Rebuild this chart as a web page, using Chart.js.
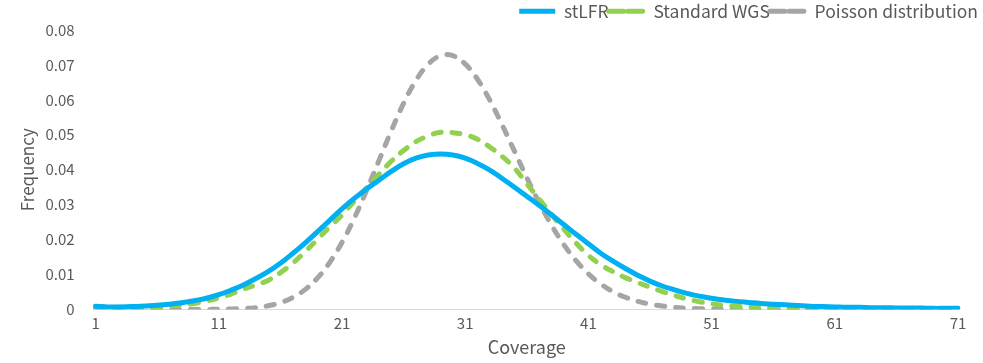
<!DOCTYPE html>
<html>
<head>
<meta charset="utf-8">
<script src="https://cdn.jsdelivr.net/npm/chart.js@4"></script>
<style>
  html, body { margin: 0; padding: 0; background: #fff; }
  #wrap { width: 983px; height: 363px; }
</style>
</head>
<body>
<div id="wrap"><canvas id="miGrafico"></canvas></div>
<script>
// coverage 1..71
const coverage = [];
for (let c = 1; c <= 71; c++) coverage.push(String(c));

const stLFR = [
  0.0009, 0.0007, 0.0007, 0.0008, 0.0010, 0.0012, 0.0015, 0.0019, 0.0025, 0.0032,
  0.0042, 0.0055, 0.0070, 0.0088, 0.0108, 0.0132, 0.0160, 0.0190, 0.0222, 0.0255,
  0.0288, 0.0318, 0.0345, 0.0370, 0.0395, 0.0417, 0.0433, 0.0442, 0.0445, 0.0442,
  0.0433, 0.0418, 0.0399, 0.0375, 0.0350, 0.0324, 0.0298, 0.0271, 0.0243, 0.0215,
  0.0188, 0.0161, 0.0138, 0.0117, 0.0098, 0.0081, 0.0067, 0.0056, 0.0046, 0.0038,
  0.0032, 0.0027, 0.0023, 0.0020, 0.0017, 0.0015, 0.0013, 0.0011, 0.0009, 0.0008,
  0.0007, 0.0006, 0.0006, 0.0005, 0.0005, 0.0004, 0.0004, 0.0004, 0.0003, 0.0003,
  0.0003
];

const standardWGS = [
  0.0008, 0.0007, 0.0006, 0.0006, 0.0006, 0.0007, 0.0009, 0.0012, 0.0017, 0.0024,
  0.0033, 0.0044, 0.0058, 0.0070, 0.0083, 0.0105, 0.0132, 0.0165, 0.0200, 0.0236,
  0.0270, 0.0310, 0.0348, 0.0387, 0.0424, 0.0455, 0.0480, 0.0497, 0.0507, 0.0506,
  0.0500, 0.0487, 0.0465, 0.0438, 0.0405, 0.0360, 0.0316, 0.0272, 0.0230, 0.0190,
  0.0155, 0.0128, 0.0108, 0.0091, 0.0077, 0.0064, 0.0051, 0.0040, 0.0030, 0.0022,
  0.0016, 0.0012, 0.0009, 0.0007, 0.0005, 0.0004, 0.0003, 0.0003, 0.0002, 0.0002,
  0.0002, 0.0002, 0.0001, 0.0001, 0.0001, 0.0001, 0.0001, 0.0001, 0.0001, 0.0001,
  0.0001
];

const poisson = [
  0, 0, 0, 0, 0, 0, 0, 0, 0, 0,
  0.00004, 0.00011, 0.00024, 0.00051, 0.00103, 0.00192, 0.00340, 0.00566, 0.00894, 0.01341,
  0.01916, 0.02612, 0.03407, 0.04259, 0.05111, 0.05898, 0.06553, 0.07021, 0.07263, 0.07263,
  0.07029, 0.06590, 0.05991, 0.05286, 0.04531, 0.03776, 0.03061, 0.02417, 0.01859, 0.01394,
  0.01020, 0.00729, 0.00508, 0.00347, 0.00231, 0.00151, 0.00096, 0.00060, 0.00037, 0.00022,
  0.00013, 0.00007, 0.00004, 0.00002, 0.00001, 0, 0, 0, 0, 0,
  0, 0, 0, 0, 0, 0, 0, 0, 0, 0,
  0
];

const yTicks = [0, 0.01, 0.02, 0.03, 0.04, 0.05, 0.06, 0.07, 0.08];

const FONT = "'Noto Sans CJK SC', 'Noto Sans', sans-serif";
const TXT = '#595959';

window.addEventListener("load", () => {
  const ctx = document.querySelector('#miGrafico').getContext('2d');

  new Chart(ctx, {
    type: 'line',
    data: {
      labels: coverage,
      datasets: [
        {
          label: 'stLFR',
          data: stLFR,
          borderColor: '#00B0F0',
          backgroundColor: '#00B0F0',
          borderWidth: 5,
          borderCapStyle: 'round',
          pointRadius: 0,
          tension: 0.4
        },
        {
          label: 'Standard WGS',
          data: standardWGS,
          borderColor: '#92D050',
          backgroundColor: '#92D050',
          borderWidth: 5,
          borderDash: [8, 11],
          borderCapStyle: 'round',
          pointRadius: 0,
          tension: 0.4
        },
        {
          label: 'Poisson distribution',
          data: poisson,
          borderColor: '#A5A5A5',
          backgroundColor: '#A5A5A5',
          borderWidth: 5,
          borderDash: [8, 11],
          borderCapStyle: 'round',
          pointRadius: 0,
          tension: 0.4
        }
      ]
    },
    options: {
      responsive: true,
      maintainAspectRatio: false,
      animation: false,
      layout: { padding: { left: 17, right: 5, top: 0, bottom: 5 } },
      plugins: {
        legend: {
          position: 'top',
          align: 'end',
          labels: {
            boxWidth: 36,
            boxHeight: 0,
            padding: 0,
            color: TXT,
            font: { family: FONT, size: 17.5 }
          }
        },
        tooltip: { enabled: false }
      },
      scales: {
        x: {
          offset: false,
          grid: { display: false, drawTicks: false },
          border: { display: true, color: '#D9D9D9', width: 1 },
          afterFit: (s) => { s.paddingRight = Math.max(s.paddingRight, 25); },
          ticks: {
            autoSkip: false,
            maxRotation: 0,
            padding: 5,
            color: TXT,
            font: { family: FONT, size: 15 },
            callback: function (v, i) { return i % 10 === 0 ? coverage[i] : null; }
          },
          title: {
            display: true,
            text: 'Coverage',
            color: TXT,
            padding: { top: -1, bottom: 0 },
            font: { family: FONT, size: 18 }
          }
        },
        y: {
          min: 0,
          max: 0.08,
          grid: { display: false, drawTicks: false },
          border: { display: false },
          afterBuildTicks: (axis) => { axis.ticks = yTicks.map(v => ({ value: v })); },
          ticks: {
            padding: 21,
            color: TXT,
            font: { family: FONT, size: 15 },
            callback: (v) => v === 0 ? '0' : v.toFixed(2)
          },
          title: {
            display: true,
            text: 'Frequency',
            color: TXT,
            padding: { top: 0, bottom: -13 },
            font: { family: FONT, size: 17 }
          }
        }
      }
    }
  });
});
</script>
</body>
</html>
